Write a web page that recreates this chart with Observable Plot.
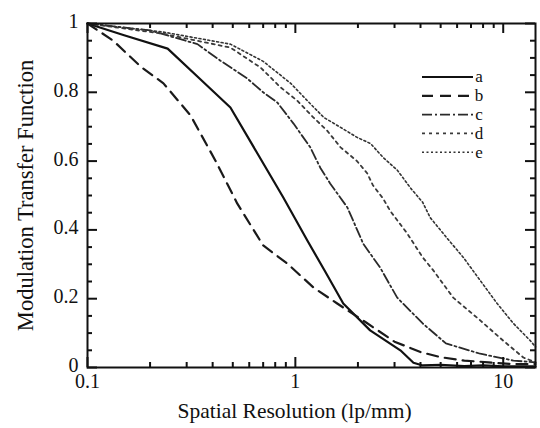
<!DOCTYPE html>
<html>
<head>
<meta charset="utf-8">
<script src="https://cdn.jsdelivr.net/npm/d3@7"></script>
<script src="https://cdn.jsdelivr.net/npm/@observablehq/plot@0.6"></script>
<style>
  html, body { margin: 0; padding: 0; background: #fff; }
  #chart { width: 540px; height: 428px; position: relative; }
</style>
</head>
<body>
<div id="chart"></div>
<script>
// ---- data ----
const seriesNames = ["a", "b", "c", "d", "e"];

const xA = [0.1, 0.15, 0.243, 0.35, 0.487, 0.875, 1.14, 1.4, 1.70, 2.29, 3.2, 3.7, 4.1, 5, 6.5, 8, 10, 14.3];
const yA = [1, 0.966, 0.927, 0.837, 0.756, 0.494, 0.37, 0.276, 0.186, 0.108, 0.05, 0.014, 0.006, 0.008, 0.004, 0.006, 0.003, 0.003];

const xB = [0.1, 0.133, 0.18, 0.232, 0.313, 0.412, 0.525, 0.70, 0.915, 1.22, 1.59, 2.2, 3.0, 4.0, 5.0, 6.5, 8.5, 11, 14.3];
const yB = [1, 0.95, 0.875, 0.826, 0.733, 0.602, 0.477, 0.355, 0.302, 0.233, 0.186, 0.13, 0.075, 0.045, 0.03, 0.02, 0.015, 0.01, 0.01];

const xC = [0.1, 0.2, 0.338, 0.436, 0.587, 0.70, 0.82, 0.98, 1.18, 1.32, 1.47, 1.78, 2.12, 2.56, 3.09, 4.1, 5.3, 7.75, 11.2, 14.3];
const yC = [1, 0.98, 0.94, 0.892, 0.84, 0.80, 0.77, 0.709, 0.64, 0.58, 0.535, 0.465, 0.36, 0.29, 0.203, 0.128, 0.07, 0.04, 0.02, 0.015];

const xD = [0.1, 0.232, 0.487, 0.68, 0.85, 1.02, 1.22, 1.42, 1.65, 1.98, 2.22, 2.36, 2.65, 2.86, 3.45, 4.1, 4.6, 5.75, 7.75, 10, 12.5, 14.3];
const yD = [1, 0.97, 0.93, 0.872, 0.814, 0.776, 0.727, 0.689, 0.64, 0.60, 0.564, 0.53, 0.49, 0.455, 0.39, 0.32, 0.283, 0.203, 0.137, 0.078, 0.029, 0.015];

const xE = [0.1, 0.232, 0.487, 0.70, 0.95, 1.14, 1.37, 1.65, 1.98, 2.3, 2.65, 3.1, 3.6, 4.1, 4.45, 5.3, 6.43, 7.75, 9.35, 11.2, 13.5, 14.3];
const yE = [1, 0.975, 0.94, 0.89, 0.826, 0.776, 0.727, 0.698, 0.669, 0.651, 0.61, 0.573, 0.52, 0.48, 0.436, 0.38, 0.32, 0.253, 0.186, 0.128, 0.078, 0.06];

const xMajorTicks = [0.1, 1, 10];
const xMinorTicks = [0.2, 0.3, 0.4, 0.5, 0.6, 0.7, 0.8, 0.9, 2, 3, 4, 5, 6, 7, 8, 9];
const yMajorTicks = [0, 0.2, 0.4, 0.6, 0.8, 1];
const yMinorTicks = [0.05, 0.1, 0.15, 0.25, 0.3, 0.35, 0.45, 0.5, 0.55, 0.65, 0.7, 0.75, 0.85, 0.9, 0.95];
const xTickLabels = ["0.1", "1", "10"];
const yTickLabels = ["0", "0.2", "0.4", "0.6", "0.8", "1"];
const xTitle = "Spatial Resolution (lp/mm)";
const yTitle = "Modulation Transfer Function";

// ---- styles ----
const styles = {
  a: {stroke: "#111", strokeWidth: 2.2, dash: null},
  b: {stroke: "#1a1a1a", strokeWidth: 2.2, dash: "11,7"},
  c: {stroke: "#2a2a2a", strokeWidth: 1.8, dash: "10,3,2,3"},
  d: {stroke: "#3a3a3a", strokeWidth: 1.8, dash: "3,4"},
  e: {stroke: "#333", strokeWidth: 1.6, dash: "2,2.5"}
};

const seriesXs = [xA, xB, xC, xD, xE];
const seriesYs = [yA, yB, yC, yD, yE];
const series = seriesNames.map((name, i) => ({
  name,
  points: seriesXs[i].map((x, j) => ({x, y: seriesYs[i][j]}))
}));

const W = 540, H = 428, mL = 87, mR = 5, mT = 23, mB = 61;
const fw = W - mL - mR, fh = H - mT - mB;
const majorLen = 10, minorLen = 5;
const font = "'Liberation Serif', 'Times New Roman', serif";

const lineMarks = series.map(s => Plot.line(s.points, {
  x: "x", y: "y",
  stroke: styles[s.name].stroke,
  strokeWidth: styles[s.name].strokeWidth,
  strokeDasharray: styles[s.name].dash,
  curve: "linear"
}));

const plot = Plot.plot({
  width: W, height: H,
  marginLeft: mL, marginRight: mR, marginTop: mT, marginBottom: mB,
  x: {type: "log", domain: [0.1, 14.3]},
  y: {domain: [0, 1]},
  style: {fontFamily: font, fontSize: "20px", background: "#fff", color: "#111"},
  marks: [
    ...lineMarks,
    // inward ticks, bottom & top
    Plot.tickX(xMajorTicks, {x: d => d, insetTop: fh - majorLen, stroke: "#111", strokeWidth: 2}),
    Plot.tickX(xMinorTicks, {x: d => d, insetTop: fh - minorLen, stroke: "#111", strokeWidth: 2}),
    Plot.tickX(xMajorTicks, {x: d => d, insetBottom: fh - majorLen, stroke: "#111", strokeWidth: 2}),
    Plot.tickX(xMinorTicks, {x: d => d, insetBottom: fh - minorLen, stroke: "#111", strokeWidth: 2}),
    // inward ticks, left & right
    Plot.tickY(yMajorTicks, {y: d => d, insetRight: fw - majorLen, stroke: "#111", strokeWidth: 2}),
    Plot.tickY(yMinorTicks, {y: d => d, insetRight: fw - minorLen, stroke: "#111", strokeWidth: 2}),
    Plot.tickY(yMajorTicks, {y: d => d, insetLeft: fw - majorLen, stroke: "#111", strokeWidth: 2}),
    Plot.tickY(yMinorTicks, {y: d => d, insetLeft: fw - minorLen, stroke: "#111", strokeWidth: 2}),
    Plot.axisX(xMajorTicks, {
      tickSize: 0, tickPadding: 6,
      tickFormat: d => xTickLabels[xMajorTicks.indexOf(d)],
      label: null, fontSize: 20
    }),
    Plot.axisY(yMajorTicks, {
      tickSize: 0, tickPadding: 9, dy: -2,
      tickFormat: d => yTickLabels[yMajorTicks.indexOf(d)],
      label: null, fontSize: 20
    }),
    Plot.text([xTitle], {
      text: d => d, frameAnchor: "bottom", dy: 44, dx: -17,
      textAnchor: "middle", lineAnchor: "middle", fontSize: 21.5
    }),
    Plot.text([yTitle], {
      text: d => d, frameAnchor: "left", dx: -62, rotate: -90,
      textAnchor: "middle", lineAnchor: "middle", fontSize: 22.5
    }),
    Plot.frame({stroke: "#111", strokeWidth: 2})
  ]
});

// ---- legend (inside plot area, upper right) ----
const svg = d3.select(plot);
const lg = svg.append("g").attr("font-family", font).attr("font-size", 17);
const legX0 = 422, legX1 = 473, legY0 = 77, legDy = 18.8;
seriesNames.forEach((name, i) => {
  const y = legY0 + i * legDy;
  lg.append("line")
    .attr("x1", legX0).attr("x2", legX1).attr("y1", y).attr("y2", y)
    .attr("stroke", styles[name].stroke)
    .attr("stroke-width", styles[name].strokeWidth)
    .attr("stroke-dasharray", styles[name].dash);
  lg.append("text")
    .attr("x", legX1 + 6).attr("y", y).attr("dy", "0.32em")
    .attr("fill", "#111")
    .text(name);
});

document.getElementById("chart").appendChild(plot);
</script>
</body>
</html>
